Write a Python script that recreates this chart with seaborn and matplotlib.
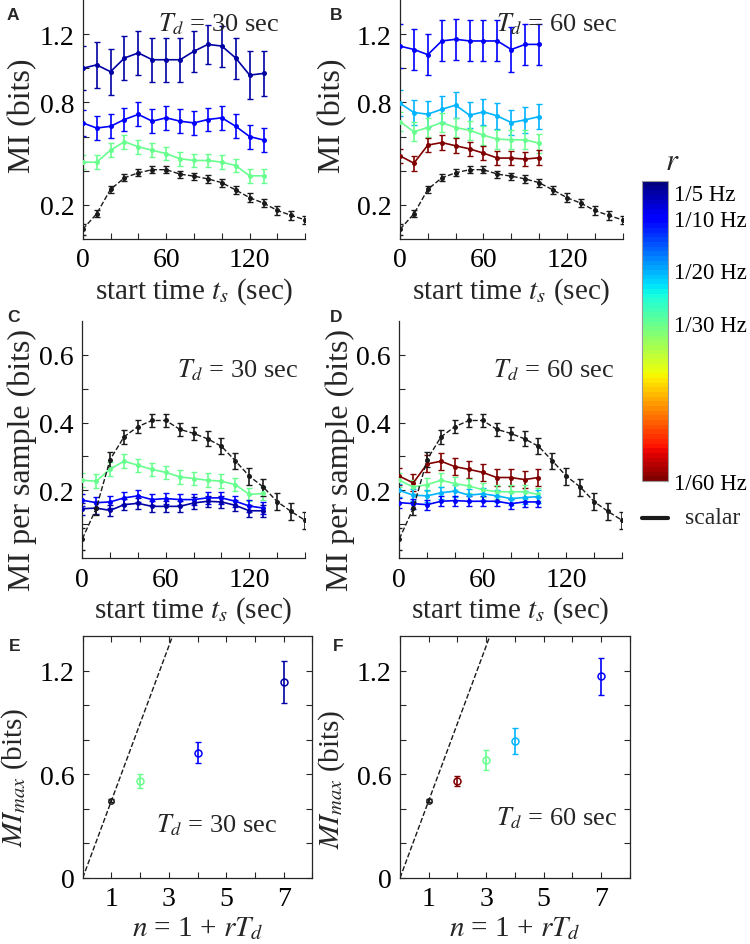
import matplotlib
matplotlib.use("Agg")
import matplotlib as mpl
import matplotlib.pyplot as plt
import seaborn as sns
import numpy as np

# ---- data ----
ts_scalar = [0, 10, 20, 30, 40, 50, 60, 70, 80, 90, 100, 110, 120, 130, 140, 150, 160]
ts_30 = [0, 10, 20, 30, 40, 50, 60, 70, 80, 90, 100, 110, 120, 130]
ts_60 = [0, 10, 20, 30, 40, 50, 60, 70, 80, 90, 100]

# scalar (n = 1) MI, same curve in A-D
mi_scalar = [0.057, 0.147, 0.291, 0.358, 0.388, 0.406, 0.406, 0.380, 0.368, 0.352,
             0.330, 0.287, 0.242, 0.210, 0.167, 0.138, 0.112]
err_scalar = [0.033, 0.02, 0.022, 0.02, 0.02, 0.02, 0.02, 0.02, 0.02, 0.022,
              0.024, 0.024, 0.025, 0.025, 0.025, 0.025, 0.025]

# A: T_d = 30 sec, MI (bits); keys are the sampling period 1/r in sec
mi30 = {
    5: [1.00, 1.02, 0.98, 1.06, 1.09, 1.05, 1.05, 1.05, 1.10, 1.14, 1.13, 1.06, 0.96, 0.97],
    10: [0.68, 0.65, 0.66, 0.70, 0.73, 0.69, 0.71, 0.69, 0.68, 0.70, 0.71, 0.66, 0.60, 0.58],
    30: [0.45, 0.45, 0.52, 0.57, 0.54, 0.52, 0.50, 0.47, 0.46, 0.46, 0.45, 0.43, 0.37, 0.37],
}
err30 = {
    5: [0.13, 0.135, 0.135, 0.127, 0.128, 0.13, 0.13, 0.13, 0.12, 0.115, 0.12, 0.12, 0.14, 0.13],
    10: [0.075, 0.07, 0.07, 0.07, 0.07, 0.07, 0.07, 0.07, 0.07, 0.07, 0.07, 0.07, 0.07, 0.07],
    30: [0.04, 0.04, 0.04, 0.04, 0.04, 0.04, 0.04, 0.04, 0.04, 0.04, 0.04, 0.04, 0.04, 0.04],
}
# B: T_d = 60 sec
mi60 = {
    10: [1.13, 1.11, 1.08, 1.16, 1.17, 1.16, 1.16, 1.16, 1.11, 1.14, 1.14],
    20: [0.795, 0.741, 0.731, 0.760, 0.784, 0.725, 0.745, 0.721, 0.682, 0.698, 0.717],
    30: [0.688, 0.628, 0.653, 0.682, 0.653, 0.637, 0.608, 0.585, 0.581, 0.581, 0.561],
    60: [0.487, 0.444, 0.550, 0.565, 0.546, 0.528, 0.503, 0.474, 0.474, 0.468, 0.476],
}
err60 = {
    10: [0.13, 0.12, 0.12, 0.12, 0.12, 0.12, 0.12, 0.12, 0.13, 0.12, 0.12],
    20: [0.075, 0.075, 0.075, 0.075, 0.075, 0.075, 0.075, 0.075, 0.075, 0.075, 0.075],
    30: [0.055, 0.055, 0.055, 0.055, 0.055, 0.055, 0.055, 0.055, 0.055, 0.055, 0.055],
    60: [0.043, 0.043, 0.043, 0.043, 0.043, 0.043, 0.043, 0.043, 0.043, 0.043, 0.043],
}
# C: MI per sample, T_d = 30 sec
ps30 = {
    5: [0.146, 0.148, 0.141, 0.158, 0.162, 0.153, 0.153, 0.153, 0.163, 0.168, 0.166, 0.156, 0.140, 0.140],
    10: [0.171, 0.164, 0.166, 0.178, 0.184, 0.173, 0.176, 0.173, 0.173, 0.178, 0.178, 0.168, 0.154, 0.148],
    30: [0.230, 0.227, 0.263, 0.286, 0.274, 0.262, 0.253, 0.240, 0.235, 0.230, 0.227, 0.217, 0.188, 0.191],
}
pserr30 = {5: 0.017, 10: 0.017, 30: 0.02}
# D: MI per sample, T_d = 60 sec
ps60 = {
    10: [0.164, 0.161, 0.158, 0.168, 0.170, 0.168, 0.168, 0.168, 0.161, 0.166, 0.166],
    20: [0.200, 0.186, 0.184, 0.193, 0.198, 0.186, 0.190, 0.184, 0.176, 0.179, 0.182],
    30: [0.230, 0.210, 0.217, 0.230, 0.220, 0.213, 0.202, 0.196, 0.196, 0.196, 0.188],
    60: [0.242, 0.222, 0.278, 0.286, 0.270, 0.262, 0.253, 0.238, 0.238, 0.232, 0.238],
}
pserr60 = {10: 0.015, 20: 0.018, 30: 0.02, 60: 0.025}

# E / F: MI_max vs n
n30 = [1, 2, 4, 7]
period30 = [None, 30, 10, 5]
max30 = [0.447, 0.563, 0.726, 1.133]
maxerr30 = [0.01, 0.04, 0.06, 0.12]
n60 = [1, 2, 3, 4, 7]
period60 = [None, 60, 30, 20, 10]
max60 = [0.447, 0.562, 0.683, 0.792, 1.167]
maxerr60 = [0.01, 0.03, 0.06, 0.077, 0.108]

cbar_ticks = [5, 10, 20, 30, 40, 50, 60]
cbar_labels = ['1/5 Hz', '1/10 Hz', '1/20 Hz', '1/30 Hz', '', '', '1/60 Hz']

# ---- style ----
sns.set_theme(style='ticks')
plt.rcParams['font.family'] = ['Liberation Serif', 'DejaVu Serif']
plt.rcParams['mathtext.fontset'] = 'stix'
plt.rcParams['axes.edgecolor'] = '#262626'
plt.rcParams['axes.linewidth'] = 0.9
plt.rcParams['xtick.color'] = '#262626'
plt.rcParams['ytick.color'] = '#262626'
plt.rcParams['xtick.labelcolor'] = 'black'
plt.rcParams['ytick.labelcolor'] = 'black'

cmap = plt.get_cmap('jet', 64)
norm = mpl.colors.Normalize(vmin=3, vmax=60)

W, H = 750, 945
fig = plt.figure(figsize=(7.5, 9.45), dpi=100)


def px_axes(l, t, r, b):
    return fig.add_axes([l / W, 1 - b / H, (r - l) / W, (b - t) / H])


def draw(ax, t, y, err, color, dashed=False):
    ax.errorbar(t, y, yerr=err, fmt='none', ecolor=color, elinewidth=1.2,
                capsize=2.5, capthick=1.0, zorder=2)
    sns.lineplot(x=t, y=y, ax=ax, color=color, lw=1.2 if not dashed else 1.0,
                 linestyle='--' if dashed else '-', marker='o', markersize=3.6,
                 markeredgewidth=0, estimator=None, sort=False, legend=False, zorder=3)


def style_time_axis(ax, ylim, yticks, ylabels, ylabel):
    ax.set_xlim(0, 160)
    ax.set_ylim(*ylim)
    ax.set_xticks(ts_scalar[::2])
    ax.set_xticklabels(['0', '', '', '60', '', '', '120', '', ''])
    ax.set_yticks(yticks)
    ax.set_yticklabels(ylabels)
    ax.tick_params(direction='in', length=4, width=0.8, labelsize=20, pad=6)
    sns.despine(ax=ax)
    ax.set_xlabel(r'start time $t_s$ (sec)', fontsize=21, labelpad=2)
    ax.set_ylabel(ylabel, fontsize=23)


# A
axA = px_axes(82.7, 1, 305.3, 240)
for p in [5, 10, 30]:
    draw(axA, ts_30, mi30[p], err30[p], cmap(norm(p)))
draw(axA, ts_scalar, mi_scalar, err_scalar, 'k', dashed=True)
style_time_axis(axA, (0, 1.4), [0.2, 0.4, 0.6, 0.8, 1.0, 1.2],
                ['0.2', '', '', '0.8', '', '1.2'], 'MI (bits)')
axA.text(54, 1.265, r'$T_d$ = 30 sec', fontsize=19, va='center')

# B
axB = px_axes(400, 1, 622.6, 240)
for p in [10, 20, 30, 60]:
    draw(axB, ts_60, mi60[p], err60[p], cmap(norm(p)))
draw(axB, ts_scalar, mi_scalar, err_scalar, 'k', dashed=True)
style_time_axis(axB, (0, 1.4), [0.2, 0.4, 0.6, 0.8, 1.0, 1.2],
                ['0.2', '', '', '0.8', '', '1.2'], 'MI (bits)')
axB.text(69, 1.265, r'$T_d$ = 60 sec', fontsize=19, va='center')

# C
axC = px_axes(82.3, 321.7, 305, 559.3)
for p in [30, 10, 5]:
    draw(axC, ts_30, ps30[p], pserr30[p], cmap(norm(p)))
draw(axC, ts_scalar, mi_scalar, err_scalar, 'k', dashed=True)
style_time_axis(axC, (0, 0.7), [0.1, 0.2, 0.3, 0.4, 0.5, 0.6],
                ['', '0.2', '', '0.4', '', '0.6'], 'MI per sample (bits)')
axC.text(68, 0.556, r'$T_d$ = 30 sec', fontsize=19, va='center')

# D
axD = px_axes(399.3, 321.7, 622, 559.3)
for p in [60, 30, 20, 10]:
    draw(axD, ts_60, ps60[p], pserr60[p], cmap(norm(p)))
draw(axD, ts_scalar, mi_scalar, err_scalar, 'k', dashed=True)
style_time_axis(axD, (0, 0.7), [0.1, 0.2, 0.3, 0.4, 0.5, 0.6],
                ['', '0.2', '', '0.4', '', '0.6'], 'MI per sample (bits)')
axD.text(67, 0.556, r'$T_d$ = 60 sec', fontsize=19, va='center')


def draw_max(ax, n, per, vals, errs, label_xy, label):
    nline = [0, 8]
    sns.lineplot(x=nline, y=[vals[0] * v for v in nline], ax=ax, color='k', lw=1.0,
                 linestyle='--', estimator=None, legend=False)
    for ni, p, v, e in zip(n, per, vals, errs):
        c = 'k' if p is None else cmap(norm(p))
        ax.errorbar([ni], [v], yerr=[e], fmt='none', ecolor=c, elinewidth=1.2,
                    capsize=2, capthick=1.0)
        ax.plot([ni], [v], marker='o', ms=5 if p is not None else 3.8, mfc='none',
                mec=c, mew=1.1, ls='none')
    ax.set_xlim(0, 8)
    ax.set_ylim(0, 1.4)
    ax.set_xticks(range(0, 9))
    ax.set_xticklabels(['', '1', '', '3', '', '5', '', '7', ''])
    ax.set_yticks([0, 0.2, 0.4, 0.6, 0.8, 1.0, 1.2])
    ax.set_yticklabels(['0', '', '', '0.6', '', '', '1.2'])
    ax.tick_params(direction='in', length=4, width=0.8, labelsize=20, pad=6,
                   top=True, right=True)
    ax.set_xlabel(r'$n$ = 1 + $rT_d$', fontsize=21, labelpad=2)
    ax.set_ylabel(r'$MI_{max}$ (bits)', fontsize=21)
    ax.text(label_xy[0], label_xy[1], label, fontsize=19, va='center')


axE = px_axes(82.7, 637, 312.3, 879)
draw_max(axE, n30, period30, max30, maxerr30, (2.54, 0.31), r'$T_d$ = 30 sec')
axF = px_axes(400, 637, 629.6, 879)
draw_max(axF, n60, period60, max60, maxerr60, (3.33, 0.35), r'$T_d$ = 60 sec')

# y-label placement (right edge of the rotated label)
axA.yaxis.set_label_coords(-0.205, 0.52)
axB.yaxis.set_label_coords(-0.238, 0.52)
axC.yaxis.set_label_coords(-0.203, 0.42)
axD.yaxis.set_label_coords(-0.20, 0.42)
axE.yaxis.set_label_coords(-0.23, 0.42)
axF.yaxis.set_label_coords(-0.23, 0.41)

# colorbar
cax = px_axes(641.7, 182, 668.3, 482)
sm = mpl.cm.ScalarMappable(norm=norm, cmap=cmap)
cb = fig.colorbar(sm, cax=cax)
cax.invert_yaxis()
cb.set_ticks(cbar_ticks)
cb.set_ticklabels(cbar_labels)
cb.outline.set_edgecolor('#9a9a9a')
cb.outline.set_linewidth(0.8)
cax.tick_params(direction='in', length=3, width=0.8, labelsize=16.5, pad=4)
fig.text(672 / W, 1 - 162 / H, r'$r$', fontsize=22, ha='center', va='center')

# scalar legend entry
fig.add_artist(mpl.lines.Line2D([641.7 / W, 668.3 / W], [1 - 519 / H, 1 - 519 / H],
                                color='k', lw=3))
fig.text(685 / W, 1 - 519 / H, 'scalar', fontsize=17, va='center')

# panel letters
for letter, (x, y) in zip('ABCDEF', [(13, 16), (336, 16), (13, 318), (336, 318),
                                     (15, 647), (338, 647)]):
    fig.text(x / W, 1 - y / H, letter, fontsize=12.5, fontweight='bold',
             family='Liberation Sans', ha='center', va='center')

fig.savefig('out.png', dpi=100)
